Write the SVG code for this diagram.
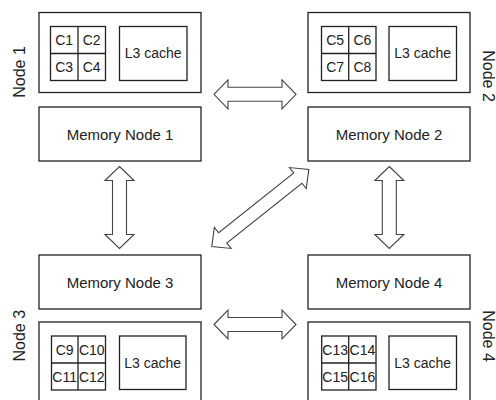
<svg xmlns="http://www.w3.org/2000/svg" width="496" height="400" viewBox="0 0 496 400">
<style>
.box{fill:#fff;stroke:#222;stroke-width:1.3}
.ln{stroke:#222;stroke-width:1.3}
.arr{fill:#fff;stroke:#444;stroke-width:1.1;stroke-linejoin:miter}
text{font-family:"Liberation Sans",Arial,sans-serif;fill:#222;text-anchor:middle}
.mem{font-size:15px}
.c{font-size:14px}
.l3{font-size:14px}
.lbl{font-size:16px}
</style>
<defs>
<path id="dbl" d="M-41 0 L-27 -14.5 L-27 -7 L27 -7 L27 -14.5 L41 0 L27 14.5 L27 7 L-27 7 L-27 14.5 Z"/>
</defs>
<rect width="496" height="400" fill="#fff"/>
<g id="connectors">
<use href="#dbl" class="arr" transform="translate(255,94.3)"/>
<use href="#dbl" class="arr" transform="translate(255,324.5)"/>
<use href="#dbl" class="arr" transform="translate(119.5,207.5) rotate(90)"/>
<use href="#dbl" class="arr" transform="translate(389.3,207.5) rotate(90)"/>
<path class="arr" transform="translate(260.3,208) rotate(-38.5)" d="M-62 0 L-48 -13.5 L-48 -6.5 L48 -6.5 L48 -13.5 L62 0 L48 13.5 L48 6.5 L-48 6.5 L-48 13.5 Z"/>
</g>
<g id="node1">
<rect class="box" x="39" y="12.5" width="162" height="80"/>
<rect class="box" x="50.5" y="26.5" width="55" height="54"/>
<line class="ln" x1="78" y1="26.5" x2="78" y2="80.5"/>
<line class="ln" x1="50.5" y1="53.5" x2="105.5" y2="53.5"/>
<text class="c" x="64.2" y="45">C1</text>
<text class="c" x="91.7" y="45">C2</text>
<text class="c" x="64.2" y="72">C3</text>
<text class="c" x="91.7" y="72">C4</text>
<rect class="box" x="119.5" y="26.5" width="67.5" height="54"/>
<text class="l3" x="153.2" y="58.3">L3 cache</text>
<text class="lbl" transform="translate(25,72) rotate(-90)">Node 1</text>
</g>
<g id="mem1">
<rect class="box" x="39" y="107" width="162" height="54"/>
<text class="mem" x="120" y="139.5">Memory Node 1</text>
</g>
<g id="node2">
<rect class="box" x="308" y="12.5" width="162" height="80"/>
<rect class="box" x="321.5" y="26.5" width="54.5" height="54"/>
<line class="ln" x1="348.7" y1="26.5" x2="348.7" y2="80.5"/>
<line class="ln" x1="321.5" y1="53.5" x2="376" y2="53.5"/>
<text class="c" x="335.1" y="45">C5</text>
<text class="c" x="362.4" y="45">C6</text>
<text class="c" x="335.1" y="72">C7</text>
<text class="c" x="362.4" y="72">C8</text>
<rect class="box" x="389" y="26.5" width="67.5" height="54"/>
<text class="l3" x="422.7" y="58.3">L3 cache</text>
<text class="lbl" transform="translate(483,76) rotate(90)">Node 2</text>
</g>
<g id="mem2">
<rect class="box" x="308" y="107" width="162" height="54"/>
<text class="mem" x="389" y="139.5">Memory Node 2</text>
</g>
<g id="mem3">
<rect class="box" x="39" y="255" width="162" height="54"/>
<text class="mem" x="120" y="287.5">Memory Node 3</text>
</g>
<g id="node3">
<rect class="box" x="39" y="322" width="162" height="82"/>
<rect class="box" x="51.5" y="336" width="54" height="54"/>
<line class="ln" x1="78" y1="336" x2="78" y2="390"/>
<line class="ln" x1="51.5" y1="363" x2="105.5" y2="363"/>
<text class="c" x="64.7" y="354.5">C9</text>
<text class="c" x="91.8" y="354.5">C10</text>
<text class="c" x="64.7" y="381.5">C11</text>
<text class="c" x="91.8" y="381.5">C12</text>
<rect class="box" x="119.5" y="336" width="66.5" height="53.5"/>
<text class="l3" x="152.7" y="367.7">L3 cache</text>
<text class="lbl" transform="translate(25,335.7) rotate(-90)">Node 3</text>
</g>
<g id="mem4">
<rect class="box" x="308" y="255" width="162" height="54"/>
<text class="mem" x="389" y="287.5">Memory Node 4</text>
</g>
<g id="node4">
<rect class="box" x="308" y="322" width="162" height="82"/>
<rect class="box" x="321.7" y="336" width="54.3" height="54"/>
<line class="ln" x1="348.7" y1="336" x2="348.7" y2="390"/>
<line class="ln" x1="321.7" y1="363" x2="376" y2="363"/>
<text class="c" x="335.2" y="354.5">C13</text>
<text class="c" x="362.4" y="354.5">C14</text>
<text class="c" x="335.2" y="381.5">C15</text>
<text class="c" x="362.4" y="381.5">C16</text>
<rect class="box" x="389" y="336" width="67.5" height="53.5"/>
<text class="l3" x="422.7" y="367.7">L3 cache</text>
<text class="lbl" transform="translate(483,336) rotate(90)">Node 4</text>
</g>
</svg>
